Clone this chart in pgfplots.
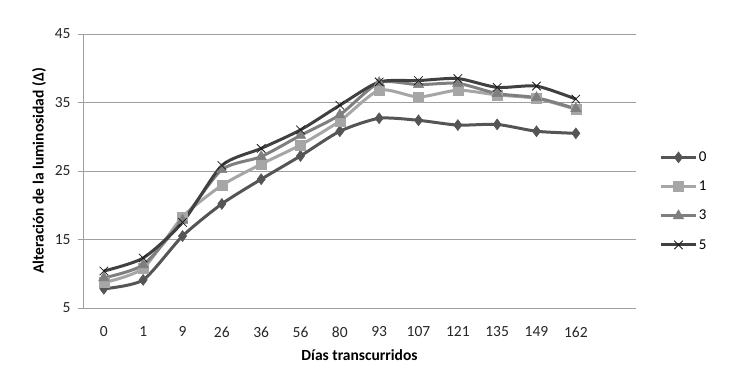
\documentclass[border=0pt]{standalone}
\usepackage{pgfplots}
\pgfplotsset{compat=1.18}
\usepackage{fontspec}
\setmainfont{Carlito}
\definecolor{cA}{HTML}{555555}
\definecolor{cB}{HTML}{A6A6A6}
\definecolor{cC}{HTML}{7F7F7F}
\definecolor{cD}{HTML}{404040}
\begin{document}
\begin{tikzpicture}
\useasboundingbox (0pt,0pt) rectangle (741pt,376pt);
\begin{axis}[
  at={(83pt,68pt)}, anchor=south west,
  scale only axis, width=553pt, height=274pt,
  xmin=-0.53, xmax=13.53, ymin=5, ymax=45,
  xtick={0,...,12},
  xticklabels={0,1,9,26,36,56,80,93,107,121,135,149,162},
  ytick={5,15,25,35,45},
  ymajorgrids, grid style={draw=gray!75, line width=0.8pt},
  axis x line*=bottom, axis y line*=left,
  axis line style={draw=gray!75, line width=0.8pt},
  x axis line style={-}, y axis line style={-},
  tick align=outside, major tick length=5pt,
  xtick style={draw=none}, ytick style={draw=gray!75, line width=0.8pt},
  tick label style={font=\fontsize{15.5}{17}\selectfont, text=black!85},
  xticklabel style={yshift=-10pt},
  yticklabel style={xshift=-4pt},
  /pgf/number format/assume math mode=true,
  xlabel={\bfseries Días transcurridos},
  ylabel={\bfseries Alteración de la luminosidad (Δ)},
  xlabel style={font=\fontsize{15.5}{17}\selectfont, yshift=-6pt},
  ylabel style={font=\fontsize{15.5}{17}\selectfont, yshift=2pt},
  legend style={at={(rel axis cs:1.043,0.39)}, anchor=west, draw=none,
    font=\fontsize{15}{17}\selectfont, row sep=14pt, inner sep=0pt},
  legend cell align=left,
  legend image code/.code={\draw[#1, mark repeat=2, mark phase=2] plot coordinates {(0pt,0pt) (17pt,0pt) (34pt,0pt)};},
  every axis plot/.append style={line width=3pt, smooth, tension=0.4},
]
\addplot[color=cA, mark=diamond*, mark size=5.5pt, mark options={solid, fill=cA, line width=0.5pt}] coordinates {
(0,7.8)(1,9.1)(2,15.5)(3,20.2)(4,23.8)(5,27.2)(6,30.8)(7,32.7)(8,32.4)(9,31.7)(10,31.8)(11,30.8)(12,30.5)};
\addlegendentry{0}
\addplot[color=cB, mark=square*, mark size=5pt, mark options={solid, fill=cB, line width=0.5pt}] coordinates {
(0,8.7)(1,10.8)(2,18.3)(3,22.9)(4,26.0)(5,28.8)(6,32.3)(7,36.8)(8,35.8)(9,36.8)(10,36.1)(11,35.6)(12,34.0)};
\addlegendentry{1}
\addplot[color=cC, mark=triangle*, mark size=6pt, mark options={solid, fill=cC, line width=0.5pt}] coordinates {
(0,9.4)(1,11.3)(2,17.8)(3,25.2)(4,27.1)(5,30.2)(6,33.2)(7,37.9)(8,37.6)(9,37.8)(10,36.3)(11,35.7)(12,34.1)};
\addlegendentry{3}
\addplot[color=cD, mark=x, mark size=6pt, mark options={solid, draw=black!90, line width=0.8pt}] coordinates {
(0,10.4)(1,12.3)(2,17.5)(3,25.8)(4,28.3)(5,31.0)(6,34.6)(7,38.0)(8,38.2)(9,38.5)(10,37.2)(11,37.4)(12,35.5)};
\addlegendentry{5}
\end{axis}
\end{tikzpicture}
\end{document}
